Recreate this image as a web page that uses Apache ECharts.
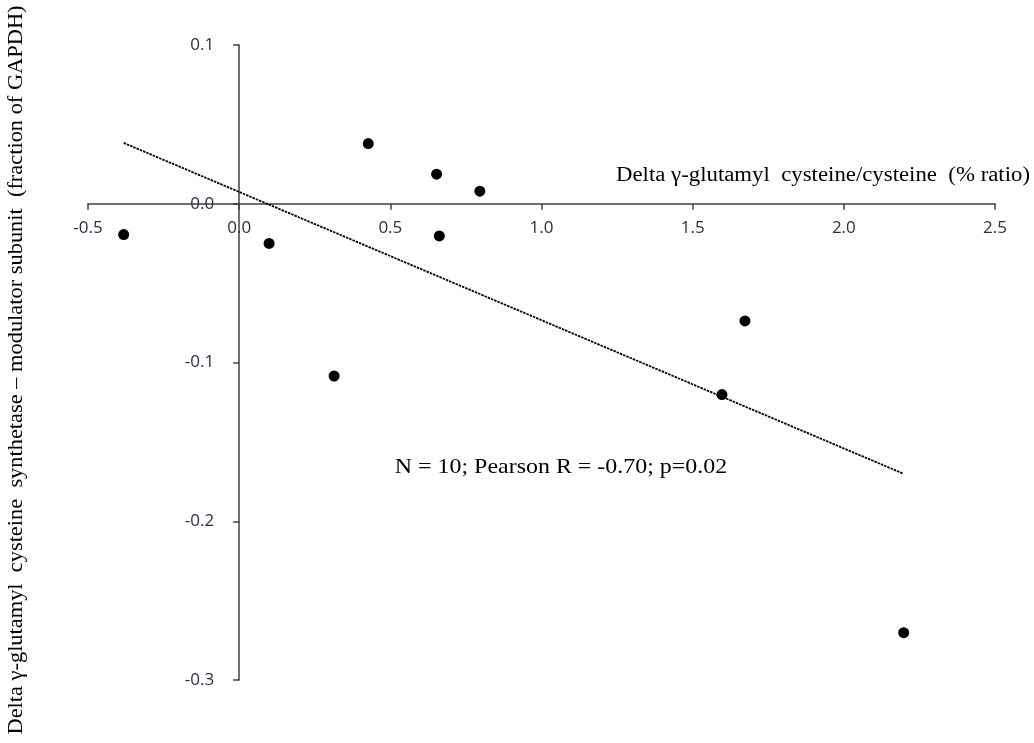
<!DOCTYPE html>
<html>
<head>
<meta charset="utf-8">
<script src="https://cdn.jsdelivr.net/npm/echarts@6/dist/echarts.min.js"></script>
<style>html,body{margin:0;padding:0;background:#fff}#c{width:1034px;height:743px}</style>
</head>
<body>
<div id="c"></div>
<script>
var pointX = [-0.382, 0.099, 0.314, 0.427, 0.653, 0.662, 0.796, 1.597, 1.673, 2.198];
var pointY = [-0.0194, -0.025, -0.1085, 0.0379, 0.0186, -0.0203, 0.0079, -0.1202, -0.0738, -0.2702];
var trendX = [-0.382, 2.194];
var trendY = [0.0383, -0.1698];
var xTicks = { min: -0.5, max: 2.5, interval: 0.5 };
var yTicks = { min: -0.3, max: 0.1, interval: 0.1 };
var xTitle = 'Delta \u03b3-glutamyl  cysteine/cysteine  (% ratio)';
var yTitle = 'Delta \u03b3-glutamyl  cysteine  synthetase \u2013 modulator subunit  (fraction of GAPDH)';
var statText = 'N = 10; Pearson R = -0.70; p=0.02';

var W = 1034, H = 743;
var grid = {left: 88, right: 39, top: 45, bottom: 63};
var gw = W - grid.left - grid.right, gh = H - grid.top - grid.bottom;
// place the axes through the origin (0,0) using offsets so labels follow the lines
var xAxisOffset = -((0 - yTicks.min) / (yTicks.max - yTicks.min)) * gh;
var yAxisOffset = -((0 - xTicks.min) / (xTicks.max - xTicks.min)) * gw;

var chart = echarts.init(document.getElementById('c'), null, {renderer: 'canvas'});
var labelFont = {fontFamily: '"Open Sans", Lato, sans-serif', fontSize: 17, color: '#263045'};
var serif = '"Liberation Serif", "DejaVu Serif", serif';
var axisColor = '#404040';
chart.setOption({
  animation: false,
  backgroundColor: '#fff',
  grid: grid,
  xAxis: {
    type: 'value', min: xTicks.min, max: xTicks.max, interval: xTicks.interval,
    position: 'bottom', offset: xAxisOffset,
    axisLine: {onZero: false, lineStyle: {color: axisColor, width: 1.5}},
    axisTick: {length: 6, lineStyle: {color: axisColor, width: 1.5}},
    axisLabel: Object.assign({margin: 16, formatter: function(v){return v.toFixed(1);}}, labelFont),
    splitLine: {show: false}
  },
  yAxis: {
    type: 'value', min: yTicks.min, max: yTicks.max, interval: yTicks.interval,
    position: 'left', offset: yAxisOffset,
    axisLine: {onZero: false, lineStyle: {color: axisColor, width: 1.5}},
    axisTick: {length: 6, lineStyle: {color: axisColor, width: 1.5}},
    axisLabel: Object.assign({margin: 25, formatter: function(v){return v.toFixed(1);}}, labelFont),
    splitLine: {show: false}
  },
  series: [
    {
      type: 'line',
      data: trendX.map(function(x, i){return [x, trendY[i]];}),
      symbol: 'none',
      lineStyle: {color: '#000', width: 1.8, type: [2.5, 1]},
      z: 2
    },
    {
      type: 'scatter',
      data: pointX.map(function(x, i){return [x, pointY[i]];}),
      symbol: 'circle',
      symbolSize: 11,
      itemStyle: {color: '#000', opacity: 1},
      z: 3
    }
  ],
  graphic: [
    {type: 'text', x: 1030, y: 176, scaleX: 1.14,
     style: {text: xTitle, font: '20px ' + serif, fill: '#000', align: 'right', verticalAlign: 'middle'}},
    {type: 'text', x: 17, y: 370, rotation: Math.PI / 2, scaleX: 1.12,
     style: {text: yTitle, font: '20px ' + serif, fill: '#000', align: 'center', verticalAlign: 'middle'}},
    {type: 'text', x: 561, y: 467, scaleX: 1.14,
     style: {text: statText, font: '21px ' + serif, fill: '#000', align: 'center', verticalAlign: 'middle'}}
  ]
});
</script>
</body>
</html>
